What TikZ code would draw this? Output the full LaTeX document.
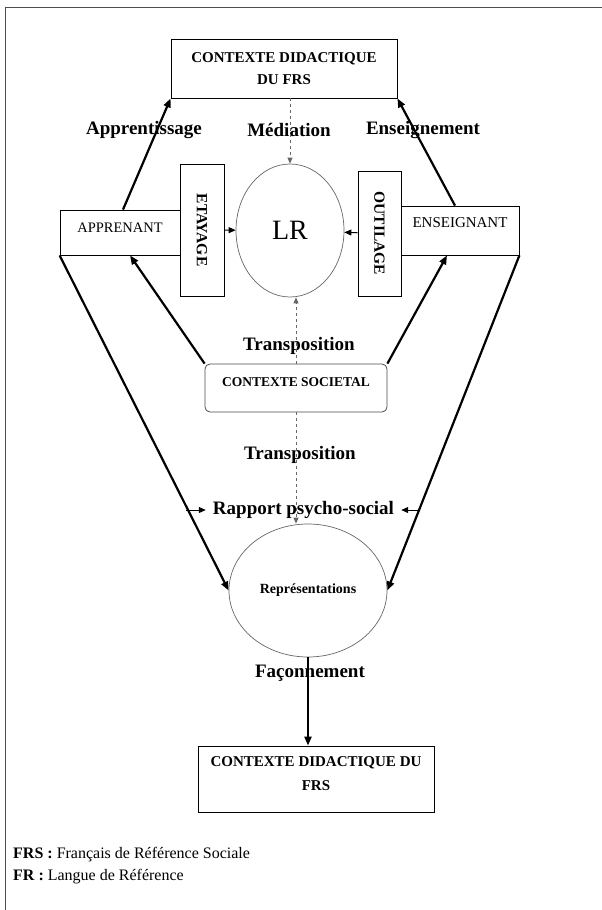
\documentclass[tikz,border=0pt]{standalone}
\usepackage{fontspec}
\setmainfont{Liberation Serif}
\usetikzlibrary{arrows.meta,shapes.geometric}

\begin{document}
\begin{tikzpicture}[x=1pt,y=-1pt]
\tikzstyle{box} = [draw, rectangle, line width=0.8pt, inner sep=2pt, fill=white]
\tikzstyle{oval} = [draw=black!60, ellipse, line width=0.7pt, inner sep=0pt]
\tikzstyle{lbl} = [font=\fontsize{19}{22}\selectfont\bfseries, inner sep=1pt]
\tikzstyle{big} = [-{Triangle[length=9pt,width=7pt]}, line width=2.2pt]
\tikzstyle{small} = [-{Triangle[length=7pt,width=6pt]}, line width=1pt]
\tikzstyle{dsh} = [-{Triangle[length=6pt,width=5pt]}, dashed, black!60, line width=0.9pt]

\useasboundingbox (0,0) rectangle (602,910);
\draw [line width=1pt, black!70] (5,915) -- (5,7) -- (610,7);

% boxes
\node [box, minimum width=226, minimum height=59, align=center,
  font=\fontsize{15}{22}\selectfont\bfseries] (top) at (284, 68.5) {CONTEXTE DIDACTIQUE\\DU FRS};
\node [box, minimum width=120, minimum height=45, text depth=9pt,
  font=\fontsize{14.5}{17}\selectfont] (appr) at (120, 232.5) {APPRENANT};
\node [box, minimum width=118, minimum height=49, text depth=16pt,
  font=\fontsize{15}{17}\selectfont] (ens) at (460, 230.5) {ENSEIGNANT};
\node [box, rotate=-90, minimum width=132, minimum height=44,
  font=\fontsize{15.5}{17}\selectfont\bfseries] (eta) at (202, 230) {ETAYAGE};
\node [box, rotate=-90, minimum width=125, minimum height=43,
  font=\fontsize{15.5}{17}\selectfont\bfseries] (outil) at (379.5, 233.5) {OUTILAGE};
\node [box, rounded corners=5pt, draw=black!70, minimum width=182, minimum height=48, text depth=12pt,
  font=\fontsize{13.5}{16}\selectfont\bfseries] (soc) at (296, 388) {CONTEXTE SOCIETAL};
\node [box, minimum width=236, minimum height=66, align=center,
  font=\fontsize{15}{24}\selectfont\bfseries] (bot) at (316, 779) {CONTEXTE DIDACTIQUE DU\\FRS\\[-14pt]};

% ovals
\node [oval, minimum width=108, minimum height=133, font=\fontsize{28}{30}\selectfont] (lr) at (290, 230.5) {LR};
\node [oval, minimum width=158, minimum height=133, font=\fontsize{14}{16}\selectfont\bfseries] (repr) at (308, 590.5) {Représentations};

% labels
\node [lbl] (app) at (144, 130) {Apprentissage};
\node [lbl] (med) at (289, 130) {Médiation};
\node [lbl] (ensl) at (423, 130) {Enseignement};
\node [lbl] (tr1) at (299, 346) {Transposition};
\node [lbl] (tr2) at (300, 455) {Transposition};
\node [lbl, inner xsep=7pt] (rap) at (303.5, 510) {Rapport psycho-social};
\node [lbl] (fac) at (310, 673) {Façonnement};

\node [anchor=west, inner sep=0pt, font=\fontsize{16}{18}\selectfont] (frs) at (13, 855) {\textbf{FRS :} Français de Référence Sociale};
\node [anchor=west, inner sep=0pt, font=\fontsize{16}{18}\selectfont] (fr) at (13, 877) {\textbf{FR :} Langue de Référence};

\coordinate (rl) at (186, 510);
\coordinate (rr) at (418, 510);

% connectors
\draw [big] ([xshift=3pt]appr.north) -- (top.south west);
\draw [big] ([xshift=-5pt]ens.north) -- (top.south east);
\draw [big] (appr.south west) -- (repr.west);
\draw [big] (ens.south east) -- (repr.east);
\draw [big] (soc.north west) -- ([xshift=10pt]appr.south);
\draw [big] (soc.north east) -- ([xshift=-13pt]ens.south);
\draw [big] (repr.south) -- (repr.south |- bot.north);

\draw [small] (eta) -- (lr);
\draw [small] (outil) -- (lr);
\draw [small] (rl) -- (rap.west);
\draw [small] (rr) -- (rap.east);

\draw [dsh] (lr.north |- top.south) -- (lr.north);
\draw [dsh] (soc.north) -- (soc.north |- lr.south);
\draw [dsh] (soc.south) -- (soc.south |- repr.north);

\end{tikzpicture}
\end{document}
